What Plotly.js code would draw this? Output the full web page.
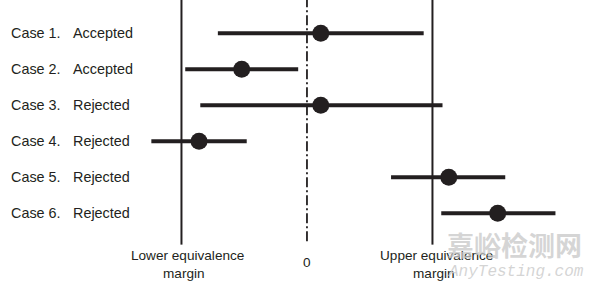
<!DOCTYPE html>
<html>
<head>
<meta charset="utf-8">
<script src="https://cdn.plot.ly/plotly-3.0.1.min.js"></script>
<style>
  html, body { margin: 0; padding: 0; background: #fff; }
  #chart { width: 600px; height: 287px; }
</style>
</head>
<body>
<div id="chart"></div>
<script>
// Equivalence test cases: point estimate with its confidence interval,
// expressed in units of the equivalence margin (margins at -1 and +1).
const caseNames = ['Case 1.', 'Case 2.', 'Case 3.', 'Case 4.', 'Case 5.', 'Case 6.'];
const verdicts  = ['Accepted', 'Accepted', 'Rejected', 'Rejected', 'Rejected', 'Rejected'];
const estimates = [0.11, -0.52, 0.11, -0.86, 1.13, 1.52];
const lowerCI   = [-0.71, -0.97, -0.85, -1.24, 0.67, 1.07];
const upperCI   = [0.93, -0.07, 1.08, -0.48, 1.58, 1.98];
const lowerMargin = -1;
const upperMargin = 1;

const rows = caseNames.map((_, i) => i + 1);
const ink = '#231f20';
const textFont = { family: 'Liberation Sans, Arial, sans-serif', size: 14.4, color: ink };

// One horizontal segment per case for the interval
const ciTraces = rows.map((r, i) => ({
  type: 'scatter', mode: 'lines',
  x: [lowerCI[i], upperCI[i]], y: [r, r],
  line: { color: ink, width: 4 },
  hoverinfo: 'skip', showlegend: false
}));

const pointTrace = {
  type: 'scatter', mode: 'markers',
  x: estimates, y: rows,
  marker: { color: ink, size: 17, line: { width: 0 } },
  showlegend: false
};

const yBottomOfLines = 6.87;

const shapes = [
  { type: 'line', xref: 'x', yref: 'y', x0: lowerMargin, x1: lowerMargin, y0: 0, y1: yBottomOfLines,
    line: { color: ink, width: 2 } },
  { type: 'line', xref: 'x', yref: 'y', x0: upperMargin, x1: upperMargin, y0: 0, y1: yBottomOfLines,
    line: { color: ink, width: 2 } },
  { type: 'line', xref: 'x', yref: 'y', x0: 0, x1: 0, y0: 0, y1: 6.8,
    line: { color: ink, width: 1.8, dash: '10px,3px,2px,3px' } }
];

const annotations = [];
rows.forEach((r, i) => {
  annotations.push({ x: -2.373, y: r, xref: 'x', yref: 'y', text: caseNames[i],
    showarrow: false, xanchor: 'left', yanchor: 'middle', font: textFont });
  annotations.push({ x: -1.88, y: r, xref: 'x', yref: 'y', text: verdicts[i],
    showarrow: false, xanchor: 'left', yanchor: 'middle', font: textFont });
});

const axisFont = { family: 'Liberation Sans, Arial, sans-serif', size: 13.6, color: ink };
annotations.push(
  { x: -0.955, y: 7.16, xref: 'x', yref: 'y', text: 'Lower equivalence', showarrow: false,
    xanchor: 'center', yanchor: 'middle', font: axisFont },
  { x: -0.98, y: 7.66, xref: 'x', yref: 'y', text: 'margin', showarrow: false,
    xanchor: 'center', yanchor: 'middle', font: axisFont },
  { x: 0, y: 7.38, xref: 'x', yref: 'y', text: '0', showarrow: false,
    xanchor: 'center', yanchor: 'middle', font: axisFont },
  { x: 1.035, y: 7.16, xref: 'x', yref: 'y', text: 'Upper equivalence', showarrow: false,
    xanchor: 'center', yanchor: 'middle', font: axisFont },
  { x: 1.01, y: 7.66, xref: 'x', yref: 'y', text: 'margin', showarrow: false,
    xanchor: 'center', yanchor: 'middle', font: axisFont },
  // site watermark in the lower right corner
  { x: 1.655, y: 6.88, xref: 'x', yref: 'y', text: '嘉峪检测网', showarrow: false,
    xanchor: 'center', yanchor: 'middle',
    font: { family: 'Noto Sans CJK SC, sans-serif', size: 27, weight: 700, color: 'rgba(200,200,200,0.75)' } },
  { x: 1.665, y: 7.63, xref: 'x', yref: 'y', text: 'AnyTesting.com', showarrow: false,
    xanchor: 'center', yanchor: 'middle',
    font: { family: 'Liberation Mono, DejaVu Sans Mono, monospace', size: 16, style: 'italic',
            color: 'rgba(205,205,205,0.85)' } }
);

const layout = {
  width: 600, height: 287,
  margin: { l: 0, r: 0, t: 0, b: 0 },
  paper_bgcolor: '#ffffff', plot_bgcolor: '#ffffff',
  xaxis: { range: [-2.446, 2.335], visible: false, fixedrange: true },
  yaxis: { range: [8.047, 0.075], visible: false, fixedrange: true },
  shapes: shapes,
  annotations: annotations,
  showlegend: false
};

Plotly.newPlot('chart', ciTraces.concat([pointTrace]), layout, { displayModeBar: false, staticPlot: true });
</script>
</body>
</html>
